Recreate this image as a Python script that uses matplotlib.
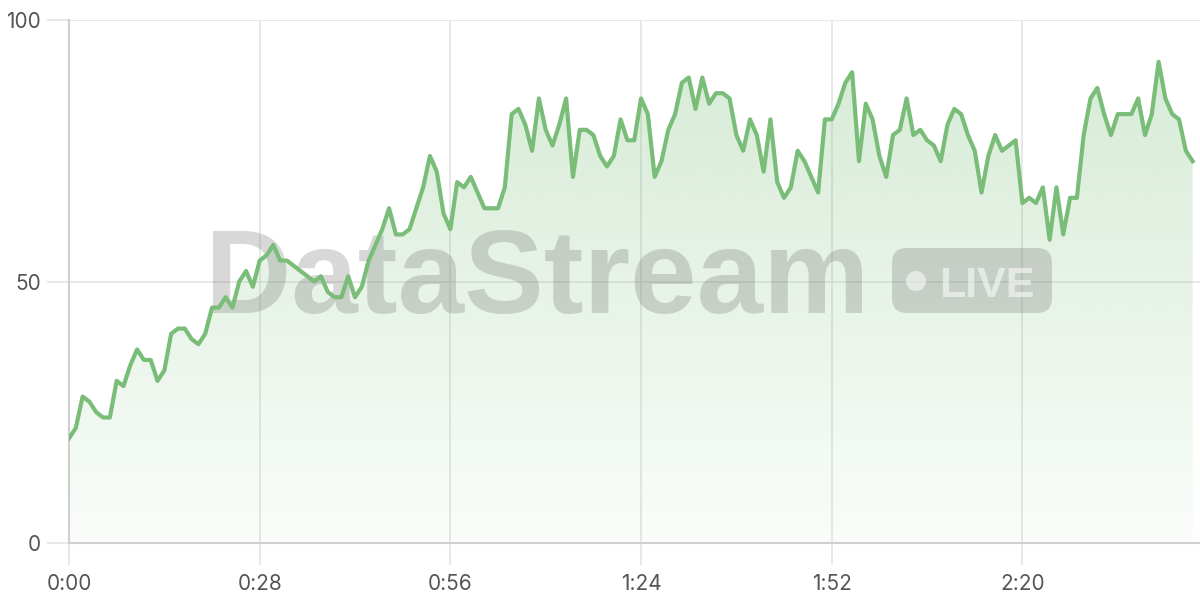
import matplotlib
matplotlib.use("Agg")
import matplotlib.pyplot as plt
from matplotlib.patches import FancyBboxPatch, Circle
from matplotlib.ticker import FuncFormatter
from matplotlib.transforms import Affine2D
import numpy as np

# seconds since start, one sample per second
values = [
    20, 22, 28, 27, 25, 24, 24, 31, 30, 34,
    37, 35, 35, 31, 33, 40, 41, 41, 39, 38,
    40, 45, 45, 47, 45, 50, 52, 49, 54, 55,
    57, 54, 54, 53, 52, 51, 50, 51, 48, 47,
    47, 51, 47, 49, 54, 57, 60, 64, 59, 59,
    60, 64, 68, 74, 71, 63, 60, 69, 68, 70,
    67, 64, 64, 64, 68, 82, 83, 80, 75, 85,
    79, 76, 80, 85, 70, 79, 79, 78, 74, 72,
    74, 81, 77, 77, 85, 82, 70, 73, 79, 82,
    88, 89, 83, 89, 84, 86, 86, 85, 78, 75,
    81, 78, 71, 81, 69, 66, 68, 75, 73, 70,
    67, 81, 81, 84, 88, 90, 73, 84, 81, 74,
    70, 78, 79, 85, 78, 79, 77, 76, 73, 80,
    83, 82, 78, 75, 67, 74, 78, 75, 76, 77,
    65, 66, 65, 68, 58, 68, 59, 66, 66, 78,
    85, 87, 82, 78, 82, 82, 82, 85, 78, 82,
    92, 85, 82, 81, 75, 73,
]
seconds = np.arange(len(values))
x_ticks = [0, 28, 56, 84, 112, 140]
y_ticks = [0, 50, 100]

line_color = "#79bd79"
grid_color = "#e4e4e4"
text_color = "#555555"

plt.rcParams["font.family"] = ["Inter", "DejaVu Sans"]

fig = plt.figure(figsize=(12, 6), dpi=100)
ax = fig.add_axes([69 / 1200, 57 / 600, 1 - 69 / 1200, 523 / 600])
ax.set_xlim(0, (1200 - 69) / 6.81)
ax.set_ylim(0, 100)

# gradient fill under the line
fill = ax.fill_between(seconds, values, 0, color="none", lw=0)
grad = np.linspace(0.04, 0.32, 256).reshape(-1, 1)
rgba = np.zeros((256, 1, 4))
rgba[..., 0] = 0x79 / 255
rgba[..., 1] = 0xbd / 255
rgba[..., 2] = 0x79 / 255
rgba[..., 3] = grad
img = ax.imshow(rgba, extent=[0, seconds[-1], 0, 100], origin="lower",
                aspect="auto", zorder=1)
img.set_clip_path(fill.get_paths()[0], transform=ax.transData)

ax.plot(seconds, values, color=line_color, lw=3, zorder=4,
        solid_joinstyle="round")

# grid and axes
ax.set_xticks(x_ticks)
ax.set_yticks(y_ticks)
ax.xaxis.set_major_formatter(FuncFormatter(lambda v, p: f"{int(v) // 60}:{int(v) % 60:02d}"))
ax.grid(True, color=grid_color, lw=1.2, zorder=0)
ax.tick_params(axis="both", length=16, width=1.2, color=grid_color,
               labelsize=15, labelcolor=text_color, pad=6)
ax.tick_params(axis="y", pad=4)
for side in ["top", "right"]:
    ax.spines[side].set_visible(False)
ax.spines["left"].set_color("#cfcfcf")
ax.spines["bottom"].set_color("#cfcfcf")
ax.spines["left"].set_linewidth(1.5)
ax.spines["bottom"].set_linewidth(1.5)
ax.set_axisbelow(True)

# watermark, placed in pixel coords (y down from the top)
px = Affine2D().scale(1, -1).translate(0, 600)
wm = (0.45, 0.45, 0.45, 0.28)
ax.text(537, 313, "DataStream", fontsize=86, fontweight="bold",
        family="Liberation Sans", color=wm, ha="center", va="baseline",
        transform=px, zorder=3, clip_on=False)
badge = FancyBboxPatch((892, 248), 160, 65,
                       boxstyle="round,pad=0,rounding_size=15",
                       transform=px, facecolor=wm, edgecolor="none",
                       zorder=3, clip_on=False)
ax.add_patch(badge)
ax.add_patch(Circle((916, 281), 10, transform=px, facecolor=(1, 1, 1, 0.55),
                    edgecolor="none", zorder=3.5, clip_on=False))
ax.text(987, 297, "LIVE", fontsize=31, fontweight="bold",
        family="Liberation Sans", color=(1, 1, 1, 0.55), ha="center",
        va="baseline", transform=px, zorder=3.5, clip_on=False)

fig.savefig("out.png", dpi=100)
